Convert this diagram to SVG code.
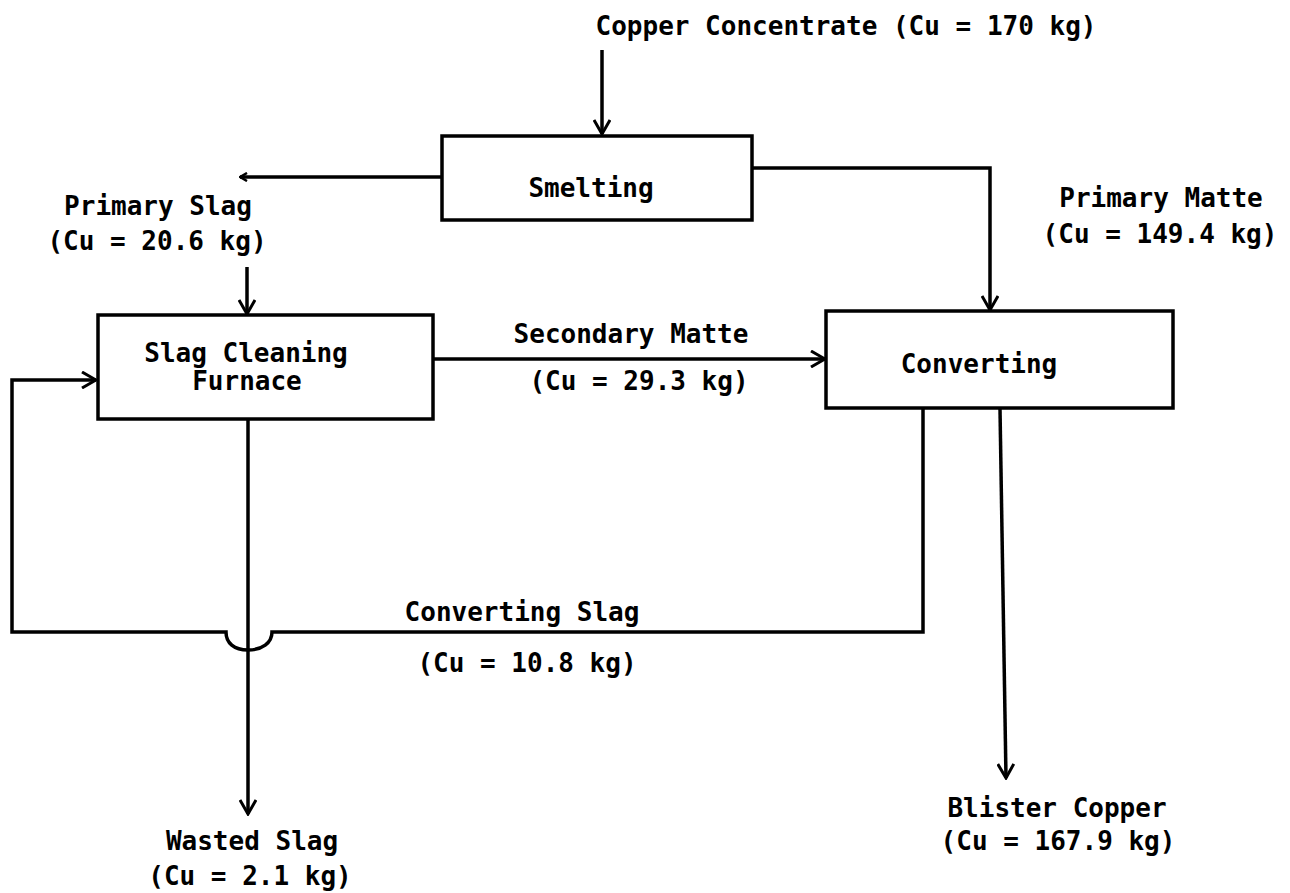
<svg xmlns="http://www.w3.org/2000/svg" width="1290" height="893" viewBox="0 0 1290 893">
<style>
.box{fill:none;stroke:#000;stroke-width:3.5}
.ln{fill:none;stroke:#000;stroke-width:3.5;stroke-linejoin:miter}
text{font-family:"DejaVu Sans Mono","Liberation Mono",monospace;font-size:26px;font-weight:bold;fill:#000;text-anchor:middle}
</style>
<defs>
<marker id="arr" viewBox="0 0 18 18" refX="16" refY="9" markerWidth="18" markerHeight="18" markerUnits="userSpaceOnUse" orient="auto">
<path d="M2,1 L16,9 L2,17" fill="none" stroke="#000" stroke-width="3"/>
</marker>
<marker id="arrs" viewBox="0 0 10 10" refX="9" refY="5" markerWidth="10" markerHeight="10" markerUnits="userSpaceOnUse" orient="auto">
<path d="M2,1 L9,5 L2,9" fill="none" stroke="#000" stroke-width="2.5"/>
</marker>
</defs>
<rect width="1290" height="893" fill="#fff"/>
<g id="connectors">
<path class="ln" d="M602 50 V134" marker-end="url(#arr)"/>
<path class="ln" d="M442 177 H240" marker-end="url(#arrs)"/>
<path class="ln" d="M247 267 V314" marker-end="url(#arr)"/>
<path class="ln" d="M752 168 H990 V310" marker-end="url(#arr)"/>
<path class="ln" d="M433 359 H825" marker-end="url(#arr)"/>
<path class="ln" d="M923 409 V632 H272 C272 643 262 650 248 650 C234 650 226 643 226 632 H12 V380 H96" marker-end="url(#arr)"/>
<path class="ln" d="M248 419 V814" marker-end="url(#arr)"/>
<path class="ln" d="M1000 409 L1006 778" marker-end="url(#arr)"/>
</g>
<g id="feed">
<text x="846" y="35">Copper Concentrate (Cu = 170 kg)</text>
</g>
<g id="smelting">
<rect class="box" x="442" y="136" width="310" height="84"/>
<text x="591" y="197">Smelting</text>
</g>
<g id="primary-slag">
<text x="158" y="215">Primary Slag</text>
<text x="157" y="250">(Cu = 20.6 kg)</text>
</g>
<g id="slag-cleaning">
<rect class="box" x="98" y="315" width="335" height="104"/>
<text x="246" y="362">Slag Cleaning</text>
<text x="247" y="390">Furnace</text>
</g>
<g id="secondary-matte">
<text x="631" y="343">Secondary Matte</text>
<text x="639" y="390">(Cu = 29.3 kg)</text>
</g>
<g id="primary-matte">
<text x="1161" y="207">Primary Matte</text>
<text x="1160" y="243">(Cu = 149.4 kg)</text>
</g>
<g id="converting">
<rect class="box" x="826" y="311" width="347" height="97"/>
<text x="979" y="373">Converting</text>
</g>
<g id="converting-slag">
<text x="522" y="621">Converting Slag</text>
<text x="527" y="672">(Cu = 10.8 kg)</text>
</g>
<g id="wasted-slag">
<text x="252" y="850">Wasted Slag</text>
<text x="250" y="885">(Cu = 2.1 kg)</text>
</g>
<g id="blister-copper">
<text x="1057" y="817">Blister Copper</text>
<text x="1058" y="850">(Cu = 167.9 kg)</text>
</g>
</svg>
